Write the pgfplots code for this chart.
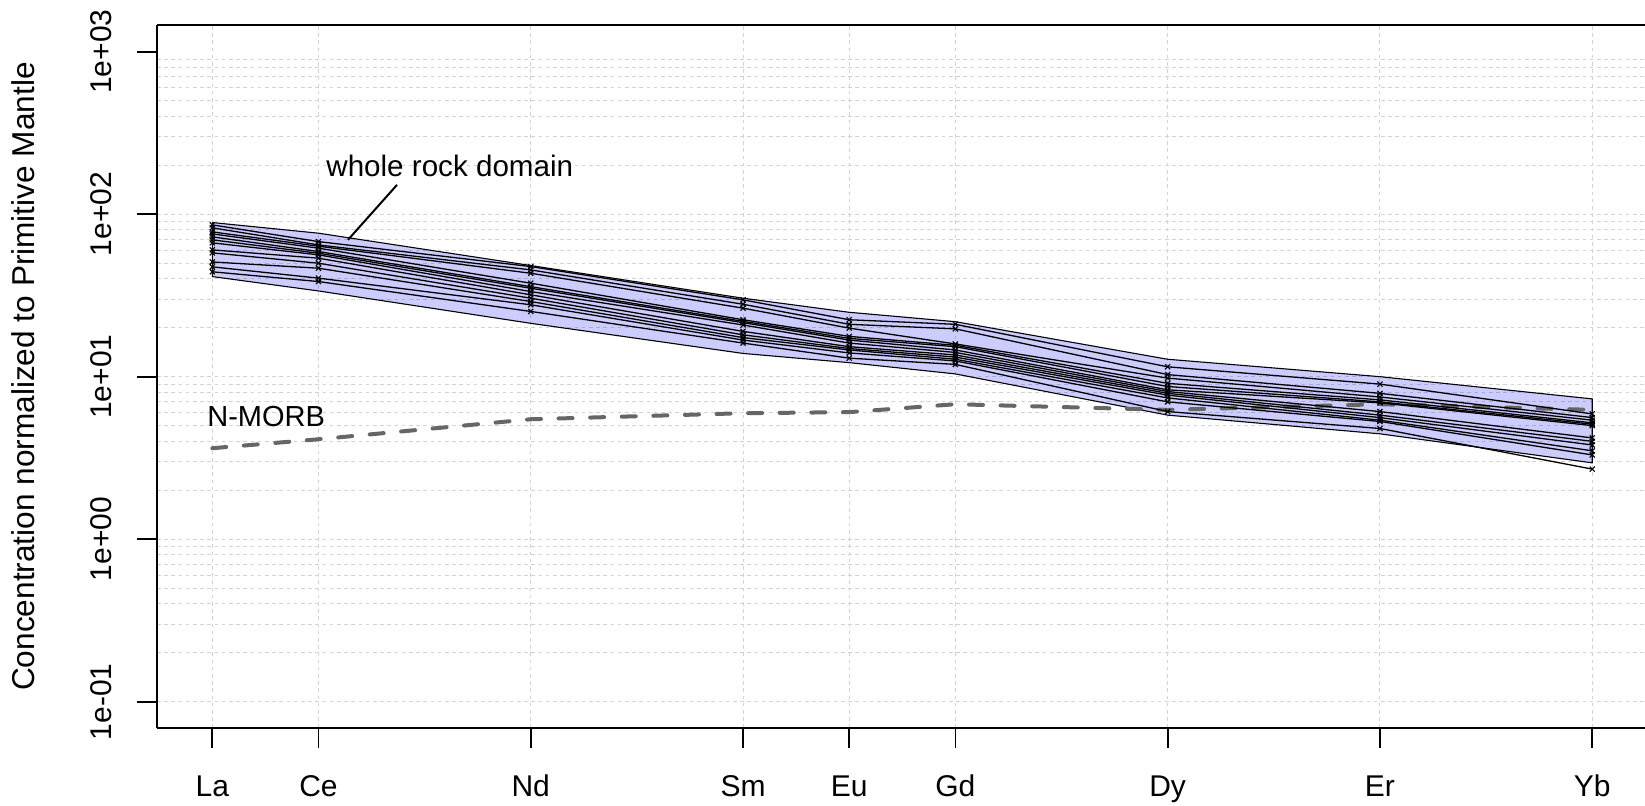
\documentclass[border=0pt]{standalone}
\usepackage{fontspec}
\setmainfont{Liberation Sans}
\usepackage{pgfplots}
\usepackage{pgfplotstable}
\pgfplotsset{compat=1.18}

\definecolor{gridgray}{RGB}{211,211,211}
\definecolor{morbgray}{RGB}{102,102,102}

% normalized concentrations of the individual samples (rank ordered)
\pgfplotstableread{
Z  s1   s2   s3   s4   s5   s6   s7   s8   s9   s10  s11  s12
57 85.9 82.4 77.8 75.6 72.5 69.5 66.6 60.3 57.8 50.8 47.4 44.2
58 67.8 64.7 63.5 61.8 58.9 57.5 56.2 53.6 49.9 46.5 40.4 38.5
60 47.6 45.4 43.3 37.6 35.8 35.0 33.4 31.9 30.4 29.0 27.7 25.2
62 29.7 27.9 26.4 22.4 21.9 21.5 20.8 19.0 18.1 17.4 16.8 16.1
63 22.4 21.0 19.9 17.7 17.2 16.8 16.1 15.3 14.9 14.6 14.0 13.0
64 21.0 19.7 15.9 15.6 15.3 14.6 14.1 13.6 13.2 12.8 12.5 11.9
66 11.5 10.3 9.8  9.1  8.7  8.3  8.1  7.9  7.7  7.4  7.0  6.1
68 9.0  7.9  7.5  7.2  7.0  6.9  6.1  5.8  5.6  5.4  5.3  4.8
70 5.9  5.6  5.4  5.2  5.1  5.0  4.2  4.0  3.8  3.5  3.3  2.7
}\samples

\begin{document}
\begin{tikzpicture}
\useasboundingbox (0,0) rectangle (822.5pt,402.5pt);
\begin{axis}[
  at={(78.5pt,38.5pt)}, anchor=south west,
  scale only axis, width=744pt, height=351.5pt,
  xmin=56.479, xmax=70.497,
  ymode=log, ymin=0.0689, ymax=1459,
  enlargelimits=false,
  axis x line*=box, axis y line*=left,
  axis line style={-, line width=0.85pt, black},
  xtick={57,58,60,62,63,64,66,68,70},
  xticklabels={La,Ce,Nd,Sm,Eu,Gd,Dy,Er,Yb},
  xtick pos=left, ytick pos=left,
  ytick={0.1,1,10,100,1000},
  yticklabels={1e-01,1e+00,1e+01,1e+02,1e+03},
  minor ytick={0.1,0.2,0.3,0.4,0.5,0.6,0.7,0.8,0.9,1,2,3,4,5,6,7,8,9,10,20,30,40,50,60,70,80,90,100,200,300,400,500,600,700,800,900},
  tick align=outside, major tick length=10pt, minor tick length=0pt,
  every tick/.style={black, line width=0.85pt},
  xmajorgrids, yminorgrids, ymajorgrids=false,
  major grid style={gridgray, line width=0.5pt, dash pattern=on 1.8pt off 1.8pt},
  minor grid style={gridgray, line width=0.5pt, dash pattern=on 1.8pt off 1.8pt},
  xticklabel style={anchor=base, yshift=-24.5pt, inner sep=0pt, font=\fontsize{15}{18}\selectfont},
  yticklabel style={xshift=-12.5pt, rotate=90, anchor=south, inner sep=0pt, font=\fontsize{15}{18}\selectfont},
  ylabel={Concentration normalized to Primitive Mantle},
  every axis y label/.style={at={(axis description cs:-0.082,0.5)}, rotate=90, anchor=south, inner sep=0pt, font=\fontsize{15.8}{19}\selectfont},
]
% whole rock domain
\addplot[draw=black, line width=0.55pt, fill=blue, fill opacity=0.2] coordinates {
 (57,88.8) (58,76.4) (60,48.3) (62,30.4) (63,24.9) (64,21.8) (66,12.8) (68,10.0) (70,7.3)
 (70,2.95) (68,4.45) (66,5.8) (64,10.4) (63,12.2) (62,13.9) (60,21.3) (58,33.7) (57,41.3)} -- cycle;
% N-MORB
\addplot[morbgray, line width=2pt, line cap=round, dash pattern=on 7pt off 8.8pt] coordinates {
 (57,3.63) (58,4.12) (60,5.47) (62,5.96) (63,6.05) (64,6.77) (66,6.25) (68,6.77) (70,6.25)};
% samples
\pgfplotsinvokeforeach{1,...,12}{
  \addplot[black, line width=0.65pt, mark=x, mark size=1.8pt, mark options={line width=0.55pt}] table[x=Z, y=s#1] {\samples};
}
\node[anchor=base west, inner sep=0pt, font=\fontsize{14.8}{18}\selectfont] at (axis cs:58.071,169.6) {whole rock domain};
\draw[line width=1pt] (axis cs:58.74,151.4) -- (axis cs:58.278,69.5);
\node[anchor=base west, inner sep=0pt, font=\fontsize{14.5}{18}\selectfont] at (axis cs:56.95,4.91) {N-MORB};
\end{axis}
\end{tikzpicture}
\end{document}
